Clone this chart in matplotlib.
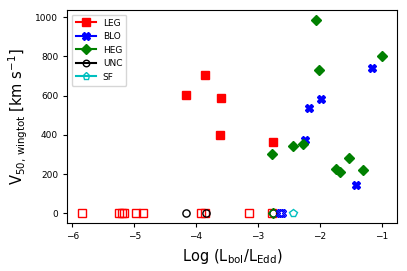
import matplotlib
matplotlib.use("Agg")
import matplotlib.pyplot as plt
from matplotlib.lines import Line2D

# detected (filled markers)
leg_x = [-4.17, -3.85, -3.59, -3.61, -2.75]
leg_y = [601, 703, 588, 398, 364]
blo_x = [-1.16, -1.98, -2.17, -2.24, -1.42]
blo_y = [741, 585, 537, 376, 144]
heg_x = [-2.06, -1.00, -2.01, -2.78, -2.43, -2.27, -1.53, -1.74, -1.68, -1.30]
heg_y = [987, 802, 733, 300, 344, 356, 283, 224, 209, 220]

# non-detections at zero (open markers)
leg0_x = [-5.84, -5.24, -5.20, -5.16, -4.97, -4.86, -3.92, -3.85, -3.15, -2.77]
blo0_x = [-2.65, -2.61]
heg0_x = [-2.76]
unc0_x = [-4.16, -3.84, -2.76]
sf0_x = [-2.44]

fig = plt.figure(figsize=(4.07, 2.71), dpi=100)
ax = fig.add_axes([0.165, 0.177, 0.81, 0.786])

ms = 5.2
ax.plot(leg_x, leg_y, "s", color="r", ms=ms, ls="none")
ax.plot(blo_x, blo_y, "X", color="b", ms=ms, ls="none")
ax.plot(heg_x, heg_y, "D", color="g", ms=ms, ls="none")

ax.plot(leg0_x, [0] * len(leg0_x), "s", mec="r", mfc="none", ms=ms, ls="none")
ax.plot(unc0_x, [0] * len(unc0_x), "o", mec="k", mfc="none", ms=ms, ls="none")
ax.plot(heg0_x, [0] * len(heg0_x), "D", mec="g", mfc="none", ms=ms - 0.5, ls="none")
ax.plot(blo0_x, [0] * len(blo0_x), "X", mec="b", mfc="none", ms=ms, ls="none")
ax.plot(sf0_x, [0] * len(sf0_x), "p", mec="c", mfc="none", ms=ms + 0.5, ls="none")

handles = [
    Line2D([], [], color="r", marker="s", ms=ms + 0.5, label="LEG"),
    Line2D([], [], color="b", marker="X", ms=ms, label="BLO"),
    Line2D([], [], color="g", marker="D", ms=ms, label="HEG"),
    Line2D([], [], color="k", marker="o", mfc="none", ms=ms - 0.5, label="UNC"),
    Line2D([], [], color="c", marker="p", mfc="none", ms=ms, label="SF"),
]
ax.legend(handles=handles, loc="upper left", fontsize=6.5, handlelength=2.2,
          labelspacing=0.5, borderpad=0.45)

ax.set_xticks([-6, -5, -4, -3, -2, -1])
ax.set_yticks([0, 200, 400, 600, 800, 1000])
ax.tick_params(labelsize=6.5, length=3)
ax.set_xlabel(r"Log (L$_{\rm bol}$/L$_{\rm Edd}$)", fontsize=10.5)
ax.set_ylabel(r"V$_{\rm 50,\,wingtot}$ [km s$^{-1}$]", fontsize=10.5)

fig.savefig("out.png", dpi=100)
